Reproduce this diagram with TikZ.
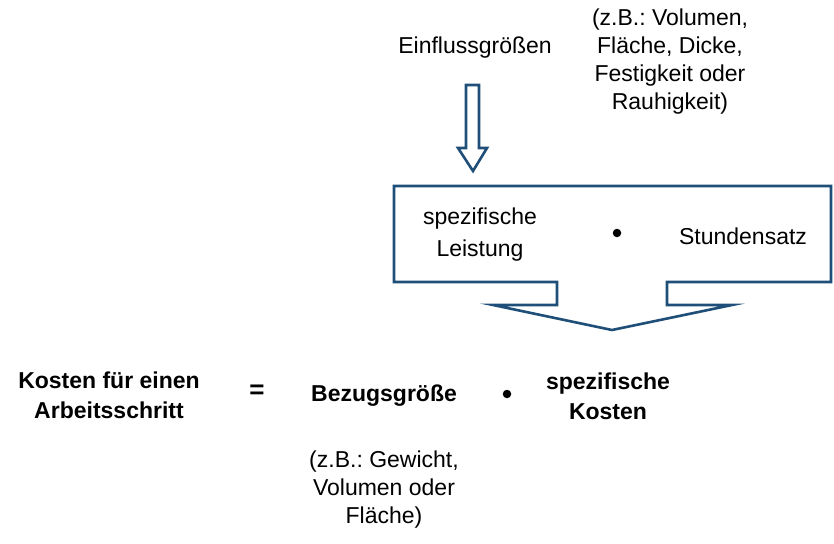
\documentclass[tikz,border=0pt]{standalone}
\usepackage{fontspec}
\setmainfont{Liberation Sans}
\usepackage{xcolor}
\definecolor{rahmenblau}{RGB}{31,78,121}
\frenchspacing

\begin{document}
\begin{tikzpicture}[
  x=1pt, y=-1pt,
  txt/.style={align=center, inner sep=0pt, font={\fontsize{23pt}{28pt}\selectfont}},
  boxtxt/.style={txt, font={\fontsize{23pt}{32pt}\selectfont}},
  fett/.style={txt, font={\fontsize{23pt}{30pt}\selectfont\bfseries}},
  punkt/.style={circle, fill=black, inner sep=0pt, minimum size=8.5pt},
  form/.style={draw=rahmenblau, line width=2.6pt, line join=miter, fill=white}
]
\useasboundingbox (0,0) rectangle (834,543);

% Einflussgroessen oben
\node[txt] (einfl) at (475,48) {Einflussgrößen};
\node[txt] (bsp1) at (670,62) {(z.B.: Volumen,\\Fläche, Dicke,\\Festigkeit oder\\Rauhigkeit)};
\draw[form] (466,85) -- (479,85) -- (479,148) -- (487,148) -- (473,171) -- (458,148) -- (466,148) -- cycle;

% Legendenrahmen mit Pfeil nach unten
\draw[form] (394,186) -- (831,186) -- (831,282) -- (667,282) -- (667,305) -- (732,305)
  -- (612,330) -- (493,305) -- (557,305) -- (557,282) -- (394,282) -- cycle;
\node[boxtxt] (leist) at (480,235) {spezifische\\Leistung};
\node[punkt] (mal1) at (617,233) {};
\node[boxtxt] (satz) at (743,236) {Stundensatz};

% Formelzeile
\node[fett] (kosten) at (109,395) {Kosten für einen\\Arbeitsschritt};
\node[fett, font={\fontsize{26pt}{30pt}\selectfont\bfseries}] (gleich) at (257,392) {=};
\node[fett] (bezug) at (384,396) {Bezugsgröße};
\node[punkt] (mal2) at (507,394) {};
\node[fett] (spez) at (608,396) {spezifische\\Kosten};
\node[txt] (bsp2) at (384,490) {(z.B.: Gewicht,\\Volumen oder\\Fläche)};
\end{tikzpicture}
\end{document}
